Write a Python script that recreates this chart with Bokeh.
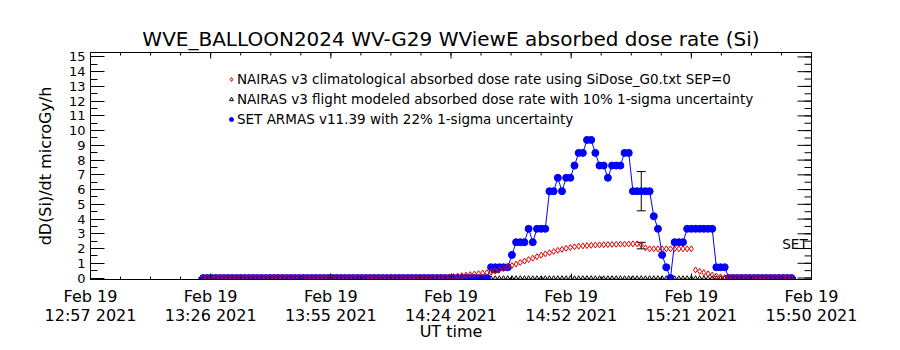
import math
from bokeh.plotting import figure
from bokeh.models import (LinearAxis, FixedTicker, Range1d, Label, Legend, LegendItem,
                          Whisker, ColumnDataSource, TeeHead, Title)
from bokeh.embed import file_html
from bokeh.resources import INLINE

FONT = "DejaVu Sans"

# ---- data (x = minutes after 2021-02-19 12:57 UT) ----
tick_minutes = [0.0, 28.8, 57.6, 86.4, 115.2, 144.0, 172.8]
tick_times = ["12:57", "13:26", "13:55", "14:24", "14:52", "15:21", "15:50"]
tick_day = "Feb 19"
tick_year = "2021"

minute = list(range(27, 169))

set_armas = [
    0, 0, 0, 0, 0, 0, 0, 0, 0, 0,            # 27-36
    0, 0, 0, 0, 0, 0, 0, 0, 0, 0,            # 37-46
    0, 0, 0, 0, 0, 0, 0, 0, 0, 0,            # 47-56
    0, 0, 0, 0, 0, 0, 0, 0, 0, 0,            # 57-66
    0, 0, 0, 0, 0, 0, 0, 0, 0, 0,            # 67-76
    0, 0, 0, 0, 0, 0, 0, 0, 0, 0,            # 77-86
    0, 0, 0, 0, 0, 0, 0, 0, 0,               # 87-95
    0.73, 0.73, 0.73, 0.73, 0.73, 1.57, 2.43, 2.43, 2.43, 3.34,   # 96-105
    2.43, 3.34, 3.34, 3.34, 5.89, 5.89, 6.80, 5.89, 6.80, 6.80,   # 106-115
    7.63, 8.49, 8.49, 9.37, 9.37, 8.49, 7.63, 7.63, 6.80, 7.63,   # 116-125
    7.63, 7.63, 8.49, 8.49, 5.89, 5.89, 5.89, 5.89, 5.89, 4.19,   # 126-135
    3.34, 1.57, 0.73, 0.00, 2.43, 2.43, 2.43, 3.34, 3.34, 3.34,   # 136-145
    3.34, 3.34, 3.34, 3.34, 0.73, 0.73, 0.73,                     # 146-152
    0, 0, 0, 0, 0, 0, 0, 0, 0, 0, 0, 0, 0, 0, 0, 0,              # 153-168
]

nairas_clim = [
    0.03, 0.03, 0.03, 0.03, 0.03, 0.03, 0.03, 0.03, 0.03, 0.03,   # 27-36
    0.03, 0.03, 0.03, 0.03, 0.03, 0.03, 0.03, 0.03, 0.03, 0.03,   # 37-46
    0.03, 0.03, 0.03, 0.03, 0.03, 0.03, 0.03, 0.03, 0.03, 0.03,   # 47-56
    0.03, 0.03, 0.03, 0.03, 0.03, 0.03, 0.03, 0.03, 0.03, 0.03,   # 57-66
    0.03, 0.03, 0.03, 0.03, 0.03, 0.03, 0.03, 0.03, 0.03, 0.03,   # 67-76
    0.03, 0.03, 0.03, 0.03, 0.03, 0.03, 0.03,                     # 77-83
    0.03, 0.05, 0.07, 0.10, 0.13, 0.16, 0.20, 0.23, 0.27, 0.30,   # 84-93
    0.33, 0.36, 0.40, 0.48, 0.56, 0.65, 0.75, 0.85, 0.95, 1.05,   # 94-103
    1.15, 1.25, 1.35, 1.45, 1.55, 1.64, 1.72, 1.80, 1.88, 1.95,   # 104-113
    2.02, 2.07, 2.12, 2.15, 2.18, 2.20, 2.22, 2.24, 2.25, 2.26,   # 114-123
    2.27, 2.28, 2.29, 2.30, 2.30, 2.31, 2.32, 2.32, 2.25, 2.05,   # 124-133
    1.98, 1.98, 1.98, 1.98, 1.98, 1.98, 1.98, 1.98, 1.98, 1.98, 1.98,  # 134-144
    0.55, 0.45, 0.36, 0.28, 0.20, 0.13, 0.08, 0.04,               # 145-152
    0.03, 0.03, 0.03, 0.03, 0.03, 0.03, 0.03, 0.03,               # 153-160
    0.03, 0.03, 0.03, 0.03, 0.03, 0.03, 0.03, 0.03,               # 161-168
]

nairas_flight = [
    0, 0, 0, 0, 0, 0, 0, 0, 0, 0, 0, 0, 0, 0, 0, 0, 0, 0, 0, 0,
    0, 0, 0, 0, 0, 0, 0, 0, 0, 0, 0, 0, 0, 0, 0, 0, 0, 0, 0, 0,
    0, 0, 0, 0, 0, 0, 0, 0, 0, 0, 0, 0, 0, 0, 0, 0, 0, 0, 0, 0,
    0, 0, 0, 0, 0, 0, 0, 0, 0, 0, 0, 0, 0, 0, 0, 0, 0, 0, 0, 0,
    0, 0, 0, 0, 0, 0, 0, 0, 0, 0, 0, 0, 0, 0, 0, 0, 0, 0, 0, 0,
    0, 0, 0, 0, 0, 0, 0, 0, 0, 0, 0, 0, 0, 0, 0, 0, 0, 0, 0, 0,
    0, 0, 0, 0, 0, 0, 0, 0, 0, 0, 0, 0, 0, 0, 0, 0, 0, 0, 0, 0,
    0, 0,
]

err_minute = [27, 63, 97, 132, 168]
set_err_value = [0.0, 0.0, 0.73, 5.89, 0.0]
set_err_sigma = [0.0, 0.0, 0.18, 1.33, 0.0]
flight_err_value = [0.0, 0.0, 0.40, 2.20, 0.0]
flight_err_sigma = [0.0, 0.0, 0.04, 0.22, 0.0]

y_ticks = list(range(0, 16))

title_text = "WVE_BALLOON2024 WV-G29 WViewE absorbed dose rate (Si)"
legend_labels = [
    "NAIRAS v3 climatological absorbed dose rate using SiDose_G0.txt SEP=0",
    "NAIRAS v3 flight modeled absorbed dose rate with 10% 1-sigma uncertainty",
    "SET ARMAS v11.39 with 22% 1-sigma uncertainty",
]

# ---- figure ----
X0, X1 = 0.0, 172.8
Y0, Y1 = -0.1, 15.3

p = figure(width=900, height=350, x_range=Range1d(X0, X1), y_range=Range1d(Y0, Y1),
           output_backend="svg", toolbar_location=None,
           x_axis_location=None, y_axis_location=None,
           min_border_left=90, min_border_right=89, min_border_top=52, min_border_bottom=71)
p.background_fill_color = "white"
p.border_fill_color = "white"
p.outline_line_color = "black"
p.grid.visible = False

p.title = Title(text=title_text, align="center", text_font=FONT, text_font_size="20px",
                text_font_style="normal", text_color="black", standoff=3)

minor_x = [i * 7.2 for i in range(25)]
minor_y = [i * 0.5 for i in range(31)]
day_labels = {t: tick_day for t in tick_minutes}
time_labels = {t: f"{h} {tick_year}" for t, h in zip(tick_minutes, tick_times)}


def style_axis(ax, tick_in, minor_in):
    ax.axis_line_color = "black"
    ax.major_tick_line_color = "black"
    ax.minor_tick_line_color = "black"
    ax.major_tick_in = tick_in
    ax.major_tick_out = 0
    ax.minor_tick_in = minor_in
    ax.minor_tick_out = 0
    ax.major_label_text_font = FONT
    ax.axis_label_text_font = FONT
    ax.axis_label_text_font_style = "normal"
    ax.major_label_text_color = "black"
    ax.axis_label_text_color = "black"


# bottom axis: ticks + first label line ("Feb 19")
xb = LinearAxis(ticker=FixedTicker(ticks=tick_minutes, minor_ticks=minor_x),
                major_label_overrides=day_labels)
style_axis(xb, 6, 3)
xb.major_label_text_font_size = "16px"
xb.major_label_standoff = 7
p.add_layout(xb, "below")

# second label line ("12:57 2021") and the axis title
xb2 = LinearAxis(ticker=FixedTicker(ticks=tick_minutes, minor_ticks=[]),
                 major_label_overrides=time_labels, axis_label="UT time")
style_axis(xb2, 0, 0)
xb2.axis_line_color = None
xb2.major_tick_line_color = None
xb2.minor_tick_line_color = None
xb2.major_label_text_font_size = "16px"
xb2.axis_label_text_font_size = "16px"
xb2.major_label_standoff = -3
xb2.axis_label_standoff = -6
p.add_layout(xb2, "below")

yl = LinearAxis(ticker=FixedTicker(ticks=y_ticks, minor_ticks=minor_y),
                axis_label="dD(Si)/dt microGy/h")
style_axis(yl, 14, 7)
yl.major_label_text_font_size = "13px"
yl.axis_label_text_font_size = "16px"
yl.major_label_standoff = 5
yl.axis_label_standoff = 11
p.add_layout(yl, "left")

# top and right box ticks (inward), drawn as clipped dash marks on the frame edges
p.scatter([X1] * len(y_ticks), y_ticks, marker="dash", size=28, line_color="black", line_width=1)
p.scatter([X1] * len(minor_y), minor_y, marker="dash", size=14, line_color="black", line_width=1)
p.scatter(tick_minutes, [Y1] * len(tick_minutes), marker="dash", size=12, angle=math.pi / 2,
          line_color="black", line_width=1)
p.scatter(minor_x, [Y1] * len(minor_x), marker="dash", size=6, angle=math.pi / 2,
          line_color="black", line_width=1)

# ---- glyphs ----
r_tri = p.scatter(minute, nairas_flight, marker="triangle", size=4,
                  line_color="black", fill_color=None, line_width=1)
p.line(minute, set_armas, line_color="blue", line_width=1)
r_blue = p.scatter(minute, set_armas, marker="circle", size=7,
                   line_color="blue", fill_color="blue")
r_red = p.scatter(minute, nairas_clim, marker="diamond", size=6,
                  line_color="#e00000", fill_color=None, line_width=1)

set_lo = [v - s for v, s in zip(set_err_value, set_err_sigma)]
set_hi = [v + s for v, s in zip(set_err_value, set_err_sigma)]
fl_lo = [v - s for v, s in zip(flight_err_value, flight_err_sigma)]
fl_hi = [v + s for v, s in zip(flight_err_value, flight_err_sigma)]
for lo, hi in ((set_lo, set_hi), (fl_lo, fl_hi)):
    src = ColumnDataSource(dict(base=err_minute, lower=lo, upper=hi))
    w = Whisker(base="base", lower="lower", upper="upper", source=src, dimension="height",
                line_color="black", line_width=1,
                upper_head=TeeHead(size=9, line_color="black", line_width=1),
                lower_head=TeeHead(size=9, line_color="black", line_width=1))
    p.add_layout(w)

# ---- texts ----
p.add_layout(Label(x=165.8, y=2.34, text="SET", text_align="left",
                   text_baseline="middle", text_font=FONT, text_font_size="13.5px",
                   text_color="black"))

legend = Legend(items=[LegendItem(label=legend_labels[0], renderers=[r_red]),
                       LegendItem(label=legend_labels[1], renderers=[r_tri]),
                       LegendItem(label=legend_labels[2], renderers=[r_blue])],
                location=(136, 152), orientation="vertical")
legend.padding = 0
legend.margin = 0
legend.spacing = 4
legend.glyph_width = 10
legend.glyph_height = 14
legend.label_height = 14
legend.label_standoff = 1
legend.label_text_font = FONT
legend.label_text_font_size = "13.5px"
legend.label_text_color = "black"
legend.border_line_alpha = 0
legend.background_fill_alpha = 0
p.add_layout(legend, "center")

open("out.html", "w").write(file_html(p, INLINE))
